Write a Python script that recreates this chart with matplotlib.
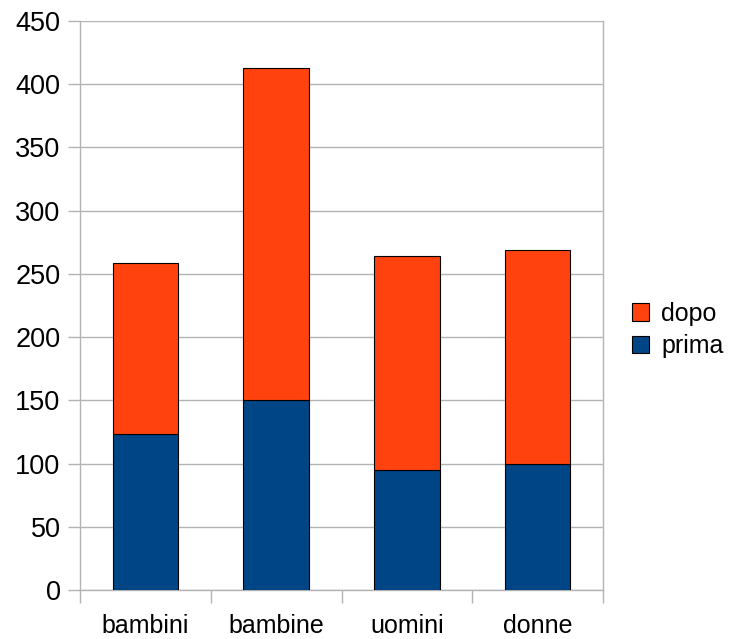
import numpy as np
import matplotlib.pyplot as plt

plt.rcParams['font.family'] = ['Liberation Sans', 'DejaVu Sans']

categorie = ['bambini', 'bambine', 'uomini', 'donne']
prima = [123, 150, 95, 100]
dopo = [136, 263, 169, 169]

fig = plt.figure(figsize=(7.39, 6.39), dpi=100)
ax = fig.add_axes([80/739, 1-590/639, (603-80)/739, (590-21)/639])

x = np.arange(len(categorie))
grigio = '#b3b3b3'
b1 = ax.bar(x, prima, 0.5, color='#004586', edgecolor='black', linewidth=0.8, zorder=3, label='prima')
b2 = ax.bar(x, dopo, 0.5, bottom=prima, color='#ff420e', edgecolor='black', linewidth=0.8, zorder=3, label='dopo')

ax.set_xlim(-0.5, 3.5)
ax.set_ylim(0, 450)
ax.set_yticks(np.arange(0, 451, 50))
ax.set_xticks(x)
ax.set_xticklabels(categorie)
ax.set_xticks(np.arange(-0.5, 3.6, 1), minor=True)
ax.tick_params(axis='x', which='major', length=0, pad=17, labelsize=18)
ax.tick_params(axis='x', which='minor', length=9.5, color=grigio, width=1)
ax.tick_params(axis='y', length=9, color=grigio, width=1, labelsize=19.5, pad=5)
ax.yaxis.grid(True, color=grigio, linewidth=1, zorder=0)
for s in ['left', 'right', 'bottom']:
    ax.spines[s].set_color(grigio)
    ax.spines[s].set_linewidth(1)
ax.spines['top'].set_visible(False)

fig.legend(handles=[b2, b1], labels=['dopo', 'prima'], loc='center left',
           bbox_to_anchor=(609/739, 1-330/639), frameon=False, fontsize=18,
           handlelength=0.7, handleheight=0.7, handletextpad=0.5, labelspacing=0.35)

fig.savefig('out.png', dpi=100)
